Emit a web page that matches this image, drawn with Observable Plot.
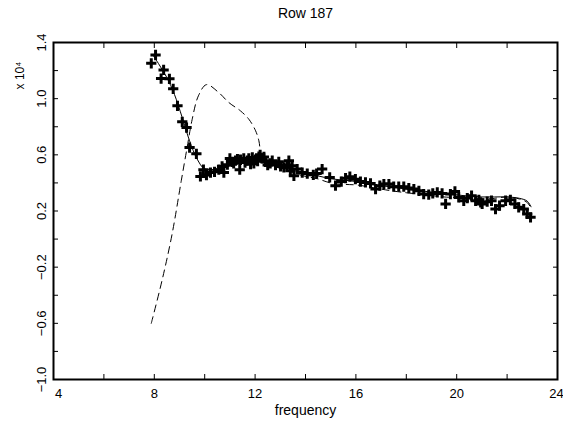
<!DOCTYPE html>
<html>
<head>
<meta charset="utf-8">
<script src="https://cdn.jsdelivr.net/npm/d3@7"></script>
<script src="https://cdn.jsdelivr.net/npm/@observablehq/plot@0.6"></script>
<style>
  html, body { margin: 0; padding: 0; background: #fff; }
  #chart svg { display: block; }
</style>
</head>
<body>
<div id="chart"></div>
<script>
// Measured data points (frequency, value in units of 1e4)
const pointFreq = [7.88, 8.05, 8.27, 8.37, 8.60, 8.75, 8.92, 9.11, 9.28, 9.40, 9.67,
  9.83, 9.95, 10.07, 10.23, 10.39, 10.56, 10.69, 10.76, 11.00, 11.09, 11.22, 11.39, 11.42,
  11.55, 11.69, 11.82, 11.89, 12.02, 12.15, 12.28, 12.41, 12.50, 12.68, 12.81, 12.94, 13.01,
  13.14, 13.27, 13.34, 13.40, 13.47, 13.54, 13.67, 13.87, 14.07, 14.31, 14.44, 14.66, 14.96,
  15.19, 15.42, 15.59, 15.76, 15.98, 16.18, 16.38, 16.58, 16.78, 16.95, 17.11, 17.31, 17.50,
  17.70, 17.90, 18.10, 18.30, 18.50, 18.69, 18.89, 19.05, 19.23, 19.42, 19.56, 19.75, 19.93,
  20.08, 20.28, 20.42, 20.59, 20.75, 20.88, 20.95, 21.01, 21.21, 21.38, 21.54, 21.70, 21.94,
  22.13, 22.31, 22.46, 22.66, 22.80, 22.93,
  10.90, 11.15, 11.30, 11.60, 11.95, 12.10, 12.35, 12.60, 12.20, 11.75];
const pointVal = [1.252, 1.311, 1.143, 1.205, 1.141, 1.070, 0.949, 0.835, 0.794, 0.652, 0.607,
  0.446, 0.494, 0.456, 0.474, 0.479, 0.494, 0.517, 0.474, 0.574, 0.550, 0.558, 0.494, 0.565,
  0.574, 0.558, 0.534, 0.581, 0.565, 0.588, 0.574, 0.550, 0.527, 0.558, 0.527, 0.550, 0.517,
  0.510, 0.527, 0.558, 0.487, 0.522, 0.451, 0.499, 0.474, 0.467, 0.458, 0.467, 0.499, 0.439,
  0.380, 0.410, 0.434, 0.444, 0.427, 0.410, 0.403, 0.396, 0.356, 0.380, 0.392, 0.392, 0.373,
  0.373, 0.373, 0.363, 0.356, 0.344, 0.321, 0.316, 0.325, 0.332, 0.325, 0.250, 0.321, 0.339,
  0.297, 0.273, 0.292, 0.309, 0.273, 0.280, 0.261, 0.250, 0.266, 0.273, 0.214, 0.238, 0.273,
  0.280, 0.250, 0.226, 0.214, 0.179, 0.155,
  0.530, 0.540, 0.570, 0.545, 0.540, 0.555, 0.585, 0.540, 0.600, 0.575];

// Solid model curve
const solidFreq = [7.95, 8.2, 8.5, 8.8, 9.1, 9.4, 9.7, 10.0, 10.5, 11.0, 11.5, 12.0, 12.5,
  13.0, 13.5, 14.0, 14.5, 15.0, 15.5, 16.0, 16.5, 17.0, 17.5, 18.0, 18.5, 19.0, 19.5, 20.0,
  20.5, 21.0, 21.5, 22.0, 22.5, 22.8, 22.95];
const solidVal = [1.31, 1.24, 1.15, 1.03, 0.87, 0.70, 0.57, 0.50, 0.50, 0.52, 0.55, 0.57, 0.56,
  0.53, 0.50, 0.47, 0.45, 0.43, 0.42, 0.41, 0.39, 0.38, 0.37, 0.355, 0.345, 0.335, 0.325, 0.315,
  0.305, 0.30, 0.30, 0.30, 0.29, 0.27, 0.23];

// Dashed model curve
const dashFreq = [7.88, 8.3, 8.7, 9.07, 9.3, 9.5, 9.75, 10.07, 10.56, 10.96, 11.42, 11.75,
  12.02, 12.15, 12.21, 12.3, 12.8, 13.4, 13.93, 14.46, 15.0, 15.5, 16.05, 16.71, 17.37, 18.0,
  18.5, 19.0, 19.5, 20.0, 20.5, 21.0, 21.5, 22.0, 22.5, 22.8, 22.95];
const dashVal = [-0.60, -0.30, 0.03, 0.415, 0.65, 0.85, 1.02, 1.10, 1.043, 0.972, 0.913, 0.854,
  0.771, 0.70, 0.63, 0.58, 0.53, 0.48, 0.45, 0.43, 0.40, 0.39, 0.385, 0.365, 0.345, 0.33,
  0.32, 0.31, 0.30, 0.295, 0.29, 0.285, 0.29, 0.30, 0.285, 0.26, 0.22];

// Axis ticks and labels
const xTicks = [4, 6, 8, 10, 12, 14, 16, 18, 20, 22, 24];
const xLabelsFirst = [4];
const xLabelsMid = [8, 12, 16, 20];
const xLabelsLast = [24];
const yTicks = [-1.0, -0.8, -0.6, -0.4, -0.2, 0, 0.2, 0.4, 0.6, 0.8, 1.0, 1.2, 1.4];
const yLabels = [-1.0, -0.6, -0.2, 0.2, 0.6, 1.0, 1.4];

const titleText = "Row 187";
const xLabelText = "frequency";
const yExpText = "x 10\u2074";

const points = pointFreq.map((f, i) => ({f, v: pointVal[i]}));
const solid = solidFreq.map((f, i) => ({f, v: solidVal[i]}));
const dashed = dashFreq.map((f, i) => ({f, v: dashVal[i]}));

const fmtY = d => d3.format(".1f")(d).replace("-", "\u2212");
const font = "Liberation Sans, Arial, Helvetica, sans-serif";
const xl = {frameAnchor: "bottom", lineAnchor: "middle", dy: 14, text: d => String(d), fontSize: 13};

const chart = Plot.plot({
  width: 563,
  height: 425,
  marginLeft: 53,
  marginRight: 6,
  marginTop: 42,
  marginBottom: 46,
  style: {fontFamily: font, fontSize: "13px", color: "#000", background: "#fff"},
  x: {domain: [4, 24]},
  y: {domain: [-1.0, 1.4]},
  marks: [
    Plot.axisX({anchor: "bottom", ticks: xTicks, tickSize: -5, tickFormat: () => "", label: null}),
    Plot.axisX({anchor: "top", ticks: xTicks, tickSize: -5, tickFormat: () => "", label: null}),
    Plot.axisY({anchor: "left", ticks: yTicks, tickSize: -5, tickFormat: () => "", label: null}),
    Plot.axisY({anchor: "right", ticks: yTicks, tickSize: -5, tickFormat: () => "", label: null}),
    Plot.text(xLabelsFirst, {x: d => d, ...xl, dx: 5}),
    Plot.text(xLabelsMid, {x: d => d, ...xl}),
    Plot.text(xLabelsLast, {x: d => d, ...xl, dx: -1}),
    Plot.text(yLabels, {y: d => d, frameAnchor: "left", textAnchor: "middle", lineAnchor: "middle", dx: -12, rotate: -90, text: fmtY, fontSize: 13}),
    Plot.text([titleText], {frameAnchor: "top", lineAnchor: "middle", dy: -29, text: d => d, fontSize: 14}),
    Plot.text([xLabelText], {frameAnchor: "bottom", lineAnchor: "middle", dy: 31, text: d => d, fontSize: 14}),
    Plot.text([yExpText], {frameAnchor: "top-left", textAnchor: "middle", lineAnchor: "middle", dx: -33, dy: 33, rotate: -90, text: d => d, fontSize: 12}),
    Plot.line(dashed, {x: "f", y: "v", stroke: "#000", strokeWidth: 1, strokeDasharray: "7,5", curve: "catmull-rom"}),
    Plot.line(solid, {x: "f", y: "v", stroke: "#000", strokeWidth: 1, curve: "catmull-rom"}),
    Plot.dot(points, {x: "f", y: "v", symbol: "plus", r: 3.4, stroke: "#000", strokeWidth: 3, strokeLinecap: "butt"}),
    Plot.frame({stroke: "#000", strokeWidth: 2})
  ]
});

document.getElementById("chart").appendChild(chart);
</script>
</body>
</html>
